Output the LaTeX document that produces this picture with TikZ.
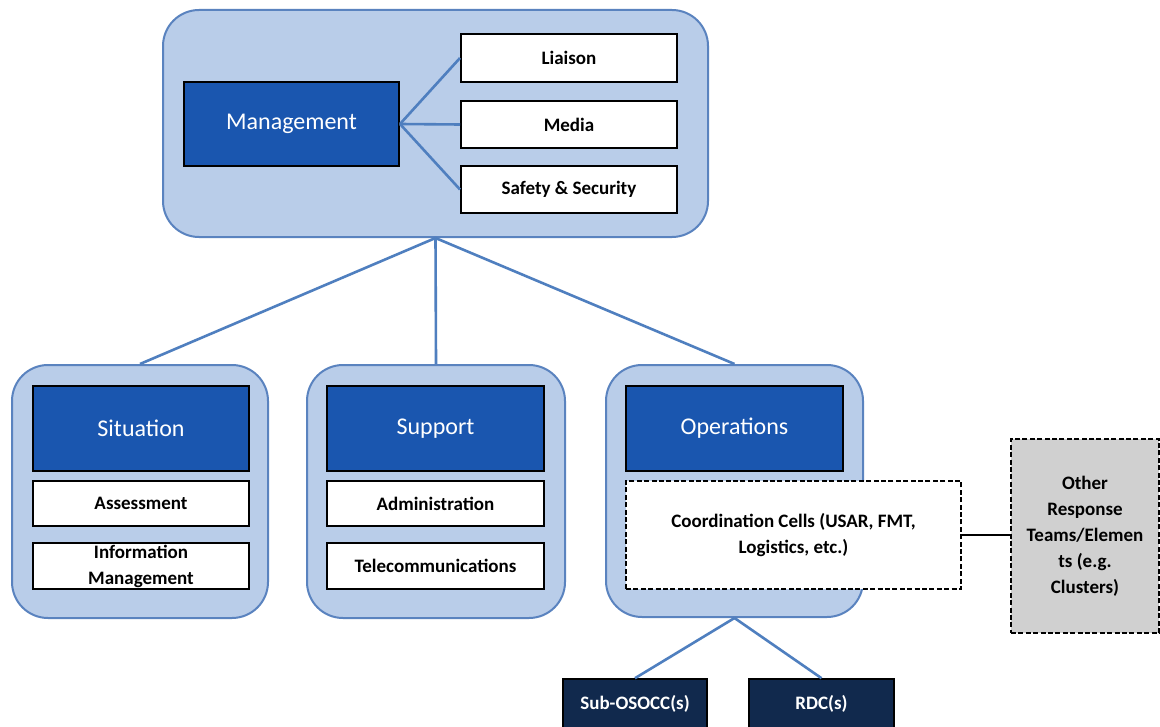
\documentclass[tikz,border=0pt]{standalone}
\usepackage{fontspec}
\setmainfont{Carlito}
\definecolor{contfill}{HTML}{B9CDE9}
\definecolor{contdraw}{HTML}{5A83BF}
\definecolor{headfill}{HTML}{1A56AF}
\definecolor{navybox}{HTML}{11294D}
\definecolor{linkblue}{HTML}{4F7FBF}
\definecolor{grayfill}{HTML}{D0D0D0}
\begin{document}
\begin{tikzpicture}[x=0.5pt,y=-0.5pt,
  container/.style={draw=contdraw, line width=1pt, fill=contfill, rounded corners=18pt, inner sep=0pt},
  headbox/.style={draw=black, line width=1pt, fill=headfill, text=white, font=\fontsize{12}{14}\selectfont, inner sep=0pt},
  itembox/.style={draw=black, line width=1pt, fill=white, font=\bfseries\fontsize{9.5}{13}\selectfont, inner sep=0pt, align=center},
  dashbox/.style={itembox, dash pattern=on 2.5pt off 1.2pt},
  navynode/.style={draw=black, line width=0.8pt, fill=navybox, text=white, font=\bfseries\fontsize{9.5}{13}\selectfont, inner sep=0pt},
  link/.style={draw=linkblue, line width=1.3pt},
  blacklink/.style={draw=black, line width=1.4pt}]
\path[use as bounding box] (0,0) rectangle (1160,727);
\clip (0,0) rectangle (1160,727);
\fill[white] (0,0) rectangle (1160,727);

% containers
\node[container, minimum width=272.5pt, minimum height=113.5pt] (mgmtC) at (435.5,123.5) {};
\node[container, minimum width=128pt, minimum height=126.5pt] (sitC) at (140,491.5) {};
\node[container, minimum width=129pt, minimum height=126.5pt] (supC) at (436,491.5) {};
\node[container, minimum width=128.5pt, minimum height=126pt] (opsC) at (734.5,491) {};

% management group
\node[headbox, minimum width=107.5pt, minimum height=42pt] (mgmt) at (291.5,124) {Management};
\node[itembox, minimum width=108pt, minimum height=24pt] (liaison) at (569,58) {Liaison};
\node[itembox, minimum width=108pt, minimum height=23.5pt] (media) at (569,124.5) {Media};
\node[itembox, minimum width=108pt, minimum height=23.5pt] (safety) at (569,189.5) {Safety \& Security};
\draw[link] (mgmt.east) -- (liaison.west);
\draw[link] (mgmt.east) -- (media.west);
\draw[link] (mgmt.east) -- (safety.west);

% situation
\node[headbox, minimum width=108pt, minimum height=42.5pt] (sit) at (141,428.5) {Situation};
\node[itembox, minimum width=108pt, minimum height=22.5pt] (assess) at (141,503.5) {Assessment};
\node[itembox, minimum width=108pt, minimum height=23pt] (info) at (141,566) {Information\\Management};

% support
\node[headbox, minimum width=108.5pt, minimum height=42.5pt] (sup) at (435.5,428.5) {Support};
\node[itembox, minimum width=108.5pt, minimum height=22.5pt] (admin) at (435.5,503.5) {Administration};
\node[itembox, minimum width=108.5pt, minimum height=23pt] (tele) at (435.5,566) {Telecommunications};

% operations
\node[headbox, minimum width=108.5pt, minimum height=42.5pt] (ops) at (734.5,428.5) {Operations};
\node[dashbox, minimum width=167.5pt, minimum height=54pt] (coord) at (793.5,535) {Coordination Cells (USAR, FMT,\\Logistics, etc.)};
\node[dashbox, fill=grayfill, minimum width=74pt, minimum height=97pt] (other) at (1085,536) {Other\\Response\\Teams/Elemen\\ts (e.g.\\Clusters)};
\draw[blacklink] (coord.east) -- (coord.east -| other.west);

% sub units
\node[navynode, minimum width=72pt, minimum height=25pt] (sub) at (635,704) {Sub-OSOCC(s)};
\node[navynode, minimum width=72.5pt, minimum height=25pt] (rdc) at (821.5,704) {RDC(s)};

% connectors
\draw[link] (mgmtC.south) -- (sitC.north);
\draw[link] (mgmtC.south) -- (supC.north);
\draw[link] (mgmtC.south) -- (opsC.north);
\draw[link] (opsC.south) -- (sub.north);
\draw[link] (opsC.south) -- (rdc.north);
\end{tikzpicture}
\end{document}
